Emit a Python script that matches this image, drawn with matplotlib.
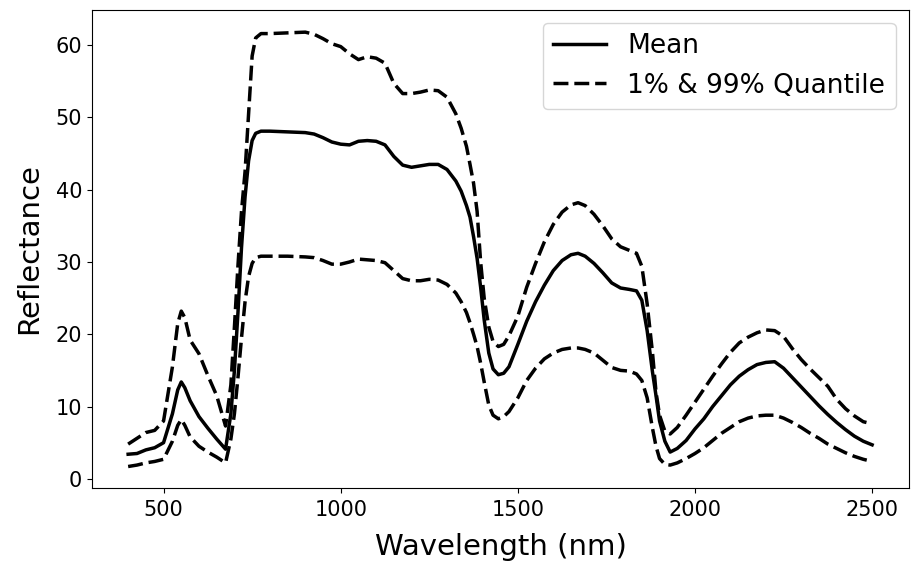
import matplotlib
matplotlib.use("Agg")
import matplotlib.pyplot as plt
import numpy as np

# wavelength grid (nm) and reflectance values
wavelength = [400, 425, 450, 475, 500, 525, 540, 550, 560, 575, 600, 625, 650, 675,
              690, 700, 710, 720, 730, 740, 750, 760, 775, 800, 850, 900, 925,
              950, 975, 1000, 1025, 1050, 1075, 1100, 1125, 1150, 1175, 1200,
              1225, 1250, 1275, 1300, 1325, 1340, 1355, 1365, 1375, 1385, 1395,
              1405, 1418, 1430, 1445, 1460, 1475, 1500, 1525, 1550, 1575, 1600,
              1625, 1650, 1670, 1690, 1715, 1740, 1765, 1790, 1815, 1835, 1850,
              1865, 1880, 1890, 1900, 1915, 1930, 1950, 1975, 2000, 2025, 2050,
              2075, 2100, 2125, 2150, 2175, 2200, 2225, 2250, 2275, 2300, 2325,
              2350, 2375, 2400, 2425, 2450, 2475, 2500]

mean = [3.4, 3.5, 4.0, 4.3, 5.0, 9.0, 12.3, 13.4, 12.6, 10.8, 8.6, 7.0, 5.5, 4.1,
        9.0, 15.0, 23.0, 32.0, 39.0, 44.0, 46.8, 47.8, 48.1, 48.1, 48.0, 47.9, 47.7,
        47.2, 46.6, 46.3, 46.2, 46.7, 46.8, 46.7, 46.2, 44.6, 43.4, 43.1,
        43.3, 43.5, 43.5, 42.8, 41.2, 39.8, 37.8, 36.2, 33.5, 30.5, 26.5,
        22.0, 17.4, 15.2, 14.4, 14.6, 15.5, 18.6, 21.8, 24.5, 26.8, 28.8,
        30.2, 31.0, 31.2, 30.8, 29.8, 28.5, 27.1, 26.4, 26.2, 26.0, 24.7,
        20.5, 14.8, 11.5, 8.0, 5.2, 3.7, 4.2, 5.3, 6.9, 8.3, 10.0,
        11.5, 13.0, 14.2, 15.1, 15.8, 16.1, 16.2, 15.3, 14.0, 12.7, 11.4,
        10.1, 8.9, 7.8, 6.8, 5.9, 5.2, 4.7]

q99 = [4.8, 5.6, 6.4, 6.7, 8.0, 15.5, 21.5, 23.2, 22.3, 19.2, 17.3, 14.3, 11.5, 7.3,
       13.0, 21.0, 29.5, 37.0, 42.5, 50.5, 58.5, 61.0, 61.6, 61.6, 61.7, 61.8, 61.5,
       60.9, 60.2, 59.8, 58.8, 58.0, 58.4, 58.2, 57.5, 54.7, 53.3, 53.3,
       53.5, 53.8, 53.7, 52.8, 50.5, 48.5, 46.0, 43.5, 40.9, 37.0, 30.0,
       25.0, 21.0, 19.0, 18.3, 18.6, 19.8, 22.5, 26.5, 29.8, 32.8, 35.2,
       36.9, 37.9, 38.2, 37.8, 36.6, 35.0, 33.2, 32.1, 31.6, 31.2, 29.4,
       24.2, 17.5, 12.0, 8.8, 6.6, 6.2, 7.1, 8.8, 10.6, 12.4, 14.2,
       15.9, 17.5, 18.8, 19.6, 20.2, 20.6, 20.5, 19.7, 18.0, 16.5, 15.2,
       14.0, 12.8, 11.0, 9.7, 8.7, 7.9, 7.6]

q01 = [1.7, 1.9, 2.2, 2.4, 2.7, 5.2, 7.4, 8.2, 7.4, 5.8, 4.5, 3.7, 3.0, 2.2,
       5.5, 9.0, 14.0, 19.5, 24.5, 28.0, 29.8, 30.6, 30.8, 30.8, 30.8, 30.7, 30.6,
       30.2, 29.7, 29.7, 30.0, 30.4, 30.3, 30.2, 29.9, 28.8, 27.7, 27.4,
       27.4, 27.6, 27.5, 26.9, 25.7, 24.5, 23.0, 21.6, 20.0, 18.3, 16.0,
       13.4, 10.2, 8.8, 8.3, 8.6, 9.3, 11.2, 13.6, 15.3, 16.6, 17.4,
       17.9, 18.1, 18.1, 17.9, 17.4, 16.4, 15.4, 15.0, 14.9, 14.5, 13.6,
       11.2, 7.0, 4.5, 2.8, 2.0, 1.9, 2.2, 2.8, 3.5, 4.3, 5.3,
       6.3, 7.1, 7.9, 8.4, 8.7, 8.8, 8.8, 8.4, 7.8, 7.1, 6.3,
       5.6, 4.8, 4.2, 3.6, 3.1, 2.7, 2.4]

fig = plt.figure(figsize=(9.2, 5.73), dpi=100)
ax = fig.add_axes([0.1, 0.148, 0.888, 0.835])

ax.plot(wavelength, mean, color="black", lw=2.5, label="Mean")
ax.plot(wavelength, q99, color="black", lw=2.5, dashes=(4.3, 1.7),
        label="1% & 99% Quantile")
ax.plot(wavelength, q01, color="black", lw=2.5, dashes=(4.3, 1.7))

ax.set_xlim(298, 2604)
ax.set_ylim(-1.3, 64.9)
ax.set_xticks([500, 1000, 1500, 2000, 2500])
ax.set_yticks([0, 10, 20, 30, 40, 50, 60])
ax.tick_params(labelsize=15)
ax.tick_params(axis="x", pad=5)
ax.set_xlabel("Wavelength (nm)", fontsize=21, labelpad=9)
ax.set_ylabel("Reflectance", fontsize=21, labelpad=9)
ax.legend(loc="upper right", fontsize=19)

fig.savefig("out.png", dpi=100)
